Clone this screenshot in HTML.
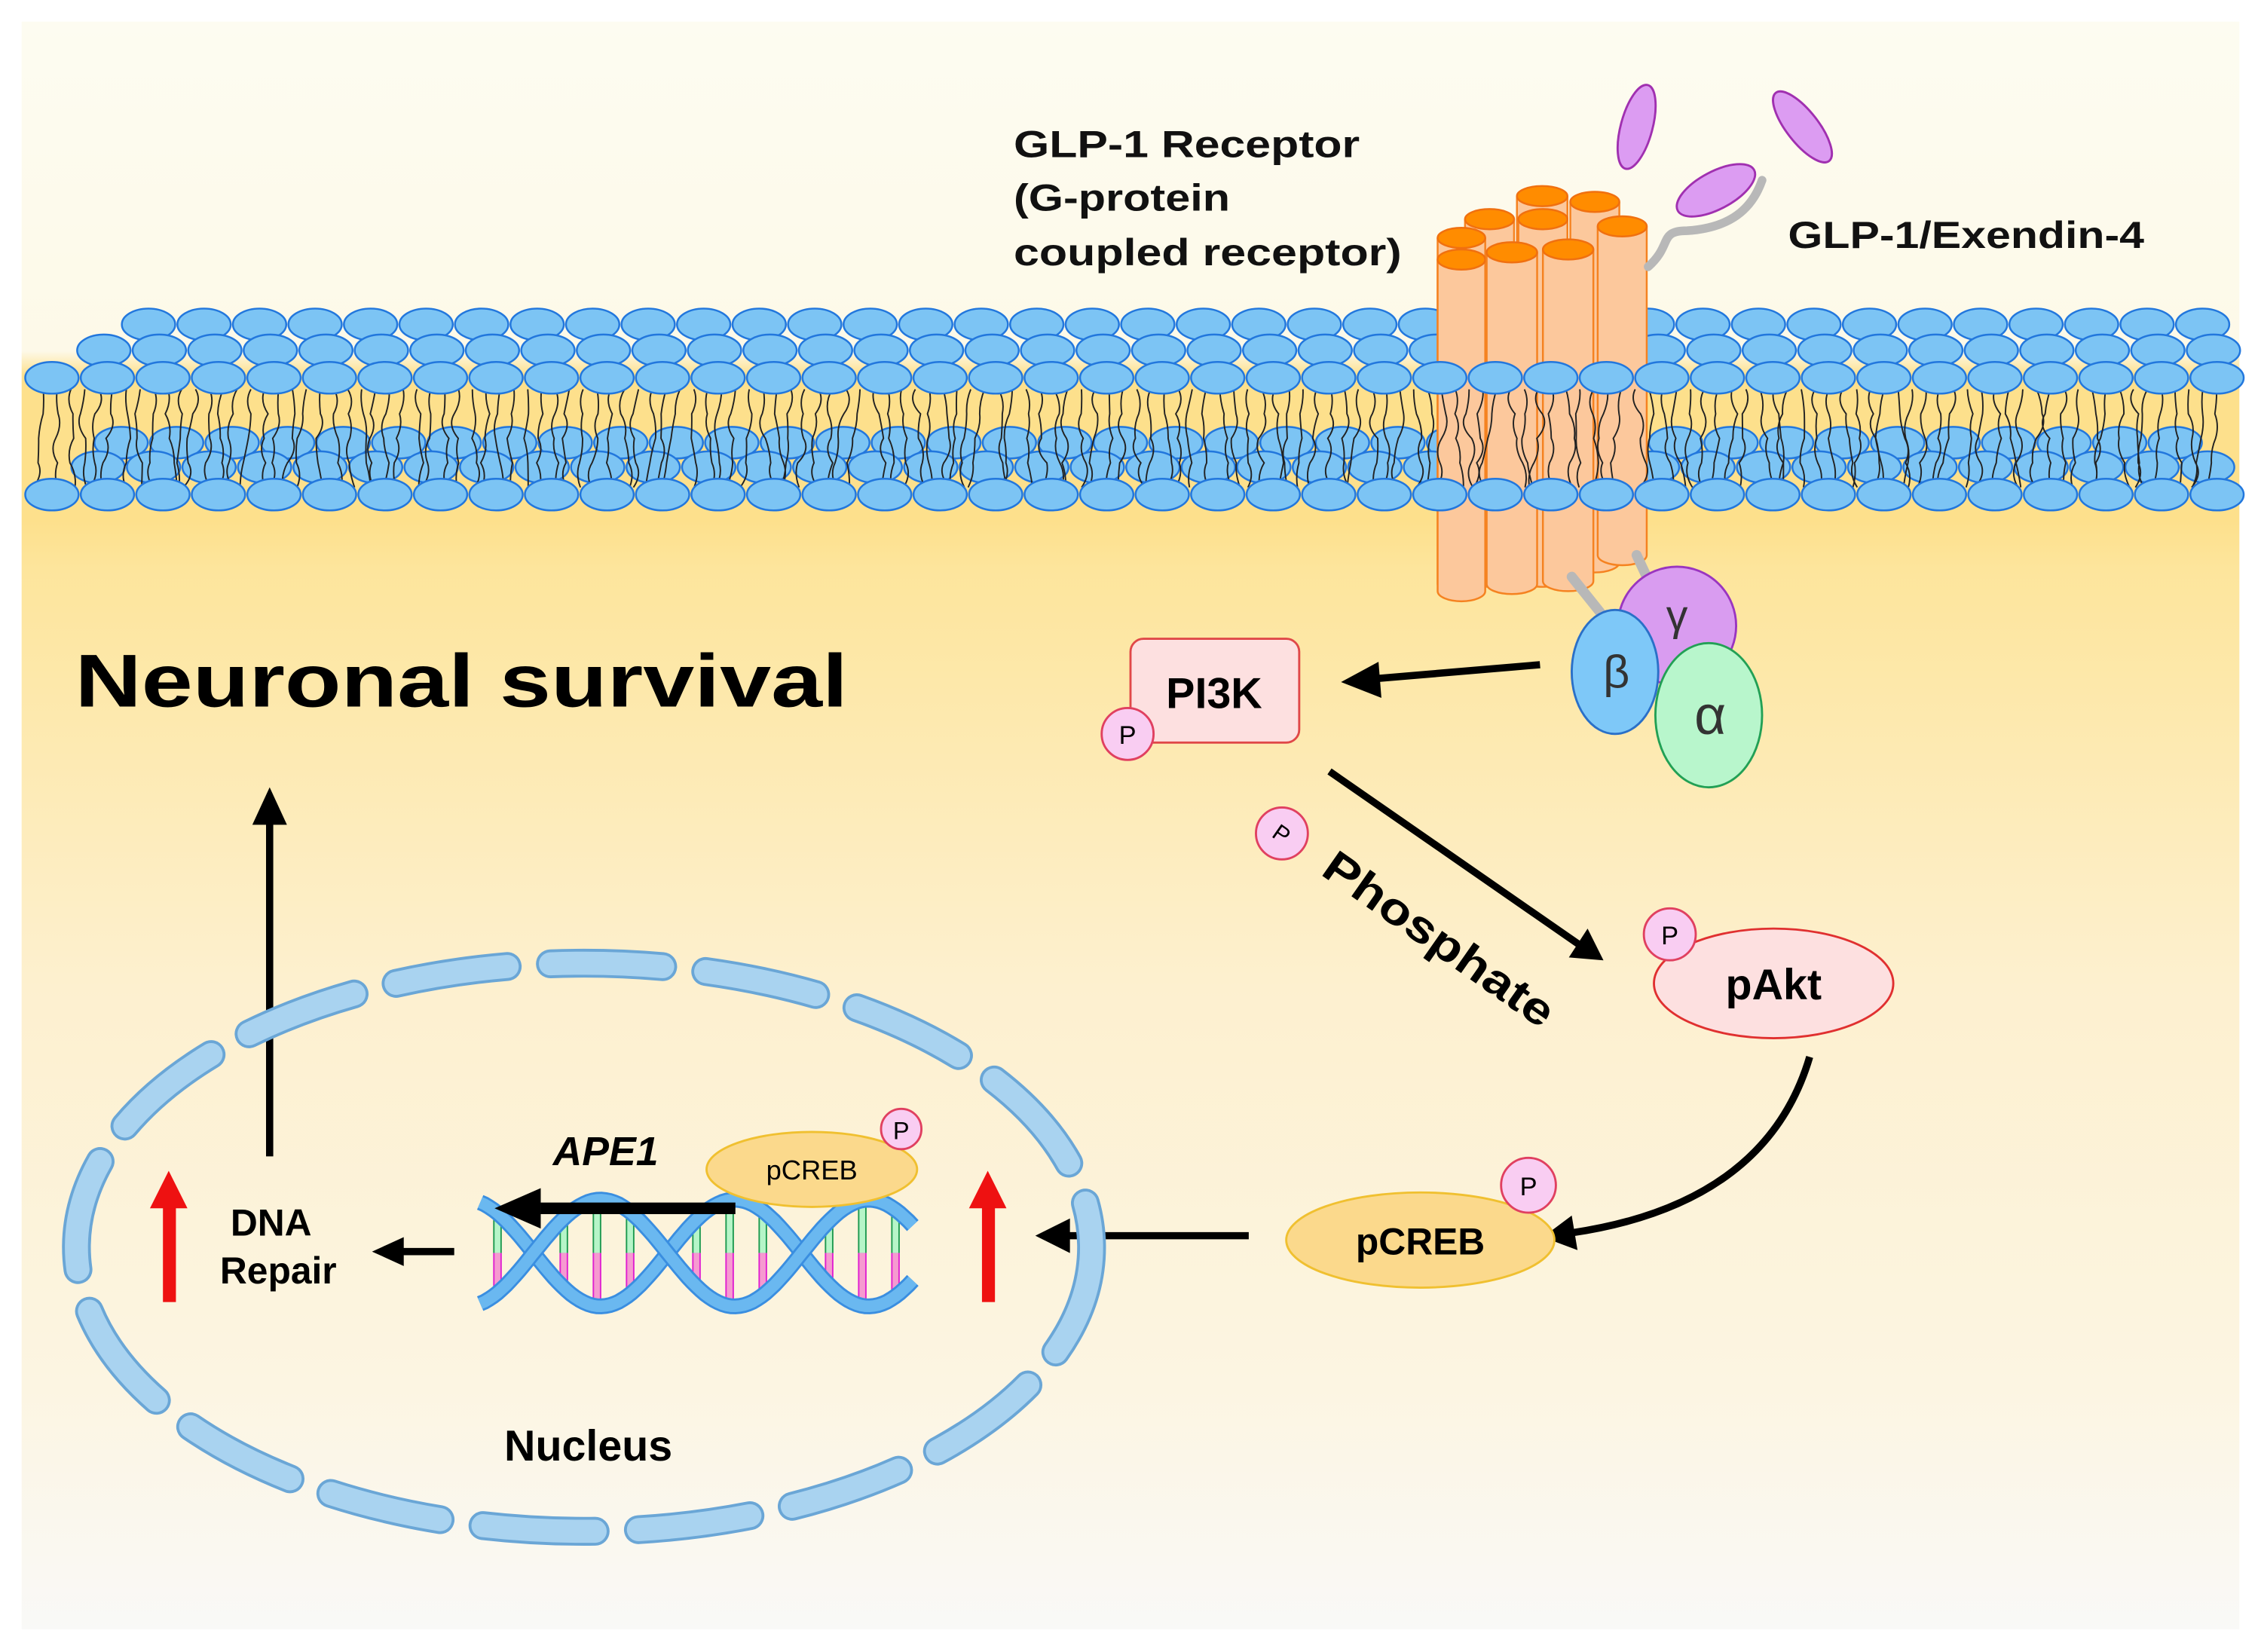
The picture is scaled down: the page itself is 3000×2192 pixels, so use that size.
<!DOCTYPE html>
<html><head><meta charset="utf-8"><style>
html,body{margin:0;padding:0;background:#fff}
svg{display:block}
text{font-family:"Liberation Sans",Arial,sans-serif}
</style></head><body>
<svg id="s" width="3000" height="2192" viewBox="0 0 1568 1145.7" preserveAspectRatio="none" xmlns="http://www.w3.org/2000/svg">
<defs>
<linearGradient id="bg" x1="0" y1="0" x2="0" y2="1">
<stop offset="0" stop-color="#fdfcf1"/>
<stop offset="0.205" stop-color="#fdf9e8"/>
<stop offset="0.22" stop-color="#fde08c"/>
<stop offset="0.31" stop-color="#fde08c"/>
<stop offset="0.34" stop-color="#fde59c"/>
<stop offset="0.6" stop-color="#fdf0cf"/>
<stop offset="0.85" stop-color="#fcf5e2"/>
<stop offset="1" stop-color="#f9f9f7"/>
</linearGradient>
</defs>
<rect x="15" y="15" width="1538" height="1115" fill="url(#bg)"/>
<g id="mem1"></g>
<g id="cyl"></g>
<g id="tails"></g>
<g id="mem2"></g>

<path d="M1143,185 C1160,170 1150,160 1170,160 C1200,158 1215,145 1222,125" fill="none" stroke="#b8b8b8" stroke-width="6" stroke-linecap="round"/>
<ellipse cx="1135" cy="88" rx="11" ry="30" transform="rotate(15 1135 88)" fill="#dc9cf2" stroke="#a030b0" stroke-width="1.5"/>
<ellipse cx="1250" cy="88" rx="11" ry="30" transform="rotate(-38 1250 88)" fill="#dc9cf2" stroke="#a030b0" stroke-width="1.5"/>
<ellipse cx="1190" cy="132" rx="30" ry="13" transform="rotate(-28 1190 132)" fill="#dc9cf2" stroke="#a030b0" stroke-width="1.5"/>

<path d="M1090,400 L1110,425 M1135,385 L1142,400" stroke="#b8b8b8" stroke-width="7" stroke-linecap="round"/>
<circle cx="1163" cy="434" r="41" fill="#d99cf0" stroke="#9a35c0" stroke-width="1.5"/>
<ellipse cx="1120" cy="466" rx="30" ry="43" fill="#7ec8f8" stroke="#2a70c8" stroke-width="1.5"/>
<ellipse cx="1185" cy="496" rx="37" ry="50" fill="#b8f6cc" stroke="#22a055" stroke-width="1.5"/>
<text x="1163" y="437" font-size="30" font-family="Liberation Serif" text-anchor="middle" fill="#333">γ</text>
<text x="1121" y="477" font-size="32" font-family="Liberation Serif" text-anchor="middle" fill="#333">β</text>
<text x="1186" y="509" font-size="38" font-family="Liberation Serif" text-anchor="middle" fill="#333">α</text>

<g font-weight="bold" font-size="26" fill="#111">
<text x="703" y="109" textLength="240" lengthAdjust="spacingAndGlyphs">GLP-1 Receptor</text>
<text x="703" y="146" textLength="150" lengthAdjust="spacingAndGlyphs">(G-protein</text>
<text x="703" y="184" textLength="269" lengthAdjust="spacingAndGlyphs">coupled receptor)</text>
<text x="1240" y="172" textLength="247" lengthAdjust="spacingAndGlyphs">GLP-1/Exendin-4</text>
</g>
<text x="52" y="490" font-size="52" font-weight="bold" fill="#000" textLength="536" lengthAdjust="spacingAndGlyphs">Neuronal survival</text>

<rect x="784" y="443" width="117" height="72" rx="9" fill="#fde0e0" stroke="#e04848" stroke-width="1.5"/>
<text x="842" y="491" font-size="30" font-weight="bold" text-anchor="middle">PI3K</text>
<circle cx="782" cy="509" r="18" fill="#f9cdf2" stroke="#e04060" stroke-width="1.5"/>
<text x="782" y="516" font-size="18" text-anchor="middle">P</text>

<g stroke="#000" stroke-width="5" fill="none">
<line x1="1068" y1="461" x2="950" y2="471"/>
<line x1="922" y1="535" x2="1095" y2="655"/>
<path d="M1255,733 Q1225,835 1090,855"/>
<line x1="866" y1="857" x2="738" y2="857"/>
<line x1="187" y1="802" x2="187" y2="568"/>
<line x1="315" y1="868" x2="275" y2="868"/>
</g>
<g fill="#000">
<polygon points="930,473 956,459 958,484"/>
<polygon points="1112,666 1088,664 1101,644"/>
<polygon points="1070,858 1090,843 1094,867"/>
<polygon points="718,857 742,845 742,869"/>
<polygon points="187,546 175,572 199,572"/>
<polygon points="258,868 280,858 280,878"/>
</g>

<circle cx="889" cy="578" r="18" fill="#f9cdf2" stroke="#e04060" stroke-width="1.5"/>
<text x="889" y="584" font-size="16" text-anchor="middle" transform="rotate(35 889 578)">P</text>
<text x="915" y="606" font-size="31" font-weight="bold" transform="rotate(35 915 606)" textLength="188" lengthAdjust="spacingAndGlyphs">Phosphate</text>

<ellipse cx="1230" cy="682" rx="83" ry="38" fill="#fde0e0" stroke="#e03030" stroke-width="1.5"/>
<text x="1230" y="693" font-size="30" font-weight="bold" text-anchor="middle">pAkt</text>
<circle cx="1158" cy="648" r="18" fill="#f9cdf2" stroke="#e04060" stroke-width="1.5"/>
<text x="1158" y="655" font-size="18" text-anchor="middle">P</text>

<ellipse cx="985" cy="860" rx="93" ry="33" fill="#fbd98c" stroke="#f0c030" stroke-width="1.5"/>
<text x="985" y="870" font-size="26" font-weight="bold" text-anchor="middle">pCREB</text>
<circle cx="1060" cy="822" r="19" fill="#f9cdf2" stroke="#e04060" stroke-width="1.5"/>
<text x="1060" y="829" font-size="18" text-anchor="middle">P</text>

<ellipse cx="405" cy="865" rx="352" ry="197" fill="none" stroke="#6aa6d6" stroke-width="20" stroke-dasharray="78 30" stroke-linecap="round"/>
<ellipse cx="405" cy="865" rx="352" ry="197" fill="none" stroke="#a9d3f0" stroke-width="16" stroke-dasharray="78 30" stroke-linecap="round"/>
<text x="408" y="1013" font-size="30" font-weight="bold" text-anchor="middle">Nucleus</text>

<g fill="#ee1111">
<rect x="113" y="835" width="9" height="68"/><polygon points="117,812 104,838 130,838"/>
<rect x="681" y="835" width="9" height="68"/><polygon points="685,812 672,838 698,838"/>
</g>
<g font-size="26" font-weight="bold" text-anchor="middle">
<text x="188" y="857">DNA</text>
<text x="193" y="890">Repair</text>
</g>

<g id="dna"></g>
<line x1="510" y1="838" x2="375" y2="838" stroke="#000" stroke-width="8"/>
<polygon points="343,838 375,824 375,852" fill="#000"/>
<text x="420" y="808" font-size="28" font-weight="bold" font-style="italic" text-anchor="middle">APE1</text>
<ellipse cx="563" cy="811" rx="73" ry="26" fill="#fbd98c" stroke="#f0c030" stroke-width="1.5"/>
<text x="563" y="818" font-size="19" text-anchor="middle">pCREB</text>
<circle cx="625" cy="783" r="14" fill="#f9cdf2" stroke="#e04060" stroke-width="1.5"/>
<text x="625" y="790" font-size="17" text-anchor="middle">P</text>
</svg>
<script>
var NS="http://www.w3.org/2000/svg";
function el(p,t,a){var e=document.createElementNS(NS,t);for(var k in a)e.setAttribute(k,a[k]);p.appendChild(e);return e;}
var m1=document.getElementById('mem1'),m2=document.getElementById('mem2'),tl=document.getElementById('tails'),cy=document.getElementById('cyl');
function row(g,y,x0){for(var x=x0;x<1545;x+=38.5)el(g,'ellipse',{cx:x,cy:y,rx:18.5,ry:11,fill:'#7cc4f4',stroke:'#2277dd','stroke-width':1.3});}
row(m1,225,103);row(m1,243,72);row(m1,307,84);row(m1,324,68);
function cylinder(x1,x2,top,bot){var w=x2-x1,cx=(x1+x2)/2;
 el(cy,'path',{d:'M'+x1+','+top+' L'+x1+','+bot+' A'+w/2+',7 0 0 0 '+x2+','+bot+' L'+x2+','+top,fill:'#fcc89c',stroke:'#f58220','stroke-width':1.3});
 el(cy,'ellipse',{cx:cx,cy:top,rx:w/2,ry:7,fill:'#ff8c00',stroke:'#f07010','stroke-width':1.3});}
cylinder(1052,1087,136,390);cylinder(1089,1123,140,390);cylinder(1016,1050,152,400);cylinder(1053,1087,152,400);cylinder(997,1030,165,405);
cylinder(997,1030,180,410);cylinder(1031,1066,175,405);cylinder(1070,1105,173,403);cylinder(1108,1142,157,385);
var seed=7;function r(){seed=(seed*9301+49297)%233280;return seed/233280;}
var d='';for(var x=30;x<1540;x+=9.6){var y=270,xx=x;d+='M'+xx.toFixed(1)+','+y;for(var k=0;k<4;k++){var nx=xx+(r()-0.5)*8,ny=y+17;d+=' Q'+(xx+(r()-0.5)*10).toFixed(1)+','+(y+8)+' '+nx.toFixed(1)+','+ny;xx=nx;y=ny;}}
el(tl,'path',{d:d,fill:'none',stroke:'#222','stroke-width':1});
row(m2,262,36);row(m2,343,36);
var dg=document.getElementById('dna');
function sy(x,ph){return 869+37*Math.sin(2*Math.PI*(x-370)/186+ph);}
for(var x=345;x<=630;x+=23){var a=sy(x,0),b=sy(x,Math.PI);var t=Math.min(a,b),bt=Math.max(a,b),mid=(t+bt)/2;
 el(dg,'line',{x1:x,y1:t,x2:x,y2:mid,stroke:'#1e9a50','stroke-width':6});el(dg,'line',{x1:x,y1:t,x2:x,y2:mid,stroke:'#b6f5c8','stroke-width':4});
 el(dg,'line',{x1:x,y1:mid,x2:x,y2:bt,stroke:'#e020d0','stroke-width':6});el(dg,'line',{x1:x,y1:mid,x2:x,y2:bt,stroke:'#f69ad0','stroke-width':4});}
[0,Math.PI].forEach(function(ph){var p='';for(var x=333;x<=633;x+=3)p+=(p?'L':'M')+x+','+sy(x,ph).toFixed(1);
 el(dg,'path',{d:p,fill:'none',stroke:'#3a8ee0','stroke-width':11});el(dg,'path',{d:p,fill:'none',stroke:'#6ab8f0','stroke-width':8});});
</script>
</body></html>
